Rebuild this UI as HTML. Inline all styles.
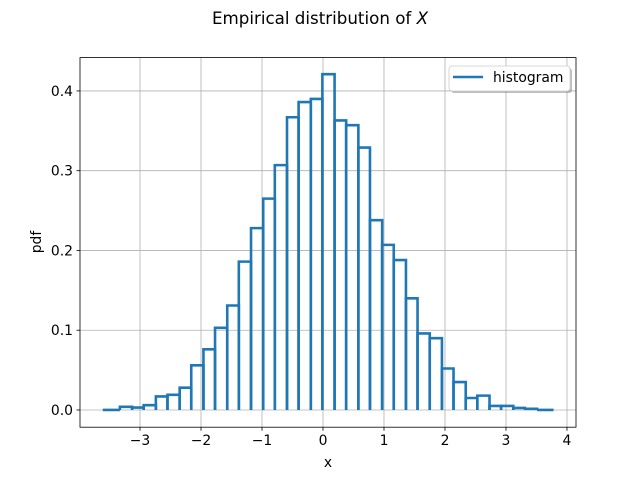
<!DOCTYPE html>
<html><head><meta charset="utf-8"><style>
body{margin:0;background:#fff}
svg{display:block;font-family:"DejaVu Sans","Liberation Sans",sans-serif}
</style></head><body>
<svg id="chart" width="640" height="480" xmlns="http://www.w3.org/2000/svg">
<rect width="640" height="480" fill="#fff"/>
<text x="320" y="24" text-anchor="middle" font-size="16.7">Empirical distribution of <tspan font-style="italic">X</tspan></text>
<g id="grid"></g>
<g id="bars"></g>
<rect x="80" y="57.6" width="496" height="369.6" fill="none" stroke="#000" stroke-width="0.8"/>
<g id="xticks"></g>
<g id="yticks"></g>
<text x="328" y="467" text-anchor="middle" font-size="13.9">x</text>
<text transform="translate(41,242) rotate(-90)" text-anchor="middle" font-size="13.9">pdf</text>
<g>
<rect x="451" y="68" width="121" height="25" rx="3" fill="#808080" opacity="0.5"/>
<rect x="449" y="66" width="121" height="25" rx="3" fill="#fff" stroke="#ccc" stroke-width="0.8"/>
<line x1="453" y1="77" x2="483" y2="77" stroke="#1f77b4" stroke-width="2.6"/>
<text x="493" y="82" font-size="13.9">histogram</text>
</g>
</svg>
<script>
const edges=[-3.61,-3.33,-3.13,-2.94,-2.74,-2.55,-2.35,-2.16,-1.96,-1.77,-1.57,-1.38,-1.18,-0.98,-0.79,-0.59,-0.40,-0.20,-0.01,0.19,0.38,0.58,0.77,0.97,1.16,1.36,1.55,1.75,1.95,2.14,2.34,2.53,2.73,2.92,3.12,3.31,3.51,3.78];
const heights=[0.000,0.004,0.003,0.006,0.017,0.019,0.028,0.056,0.076,0.103,0.131,0.186,0.228,0.265,0.307,0.367,0.386,0.390,0.421,0.363,0.357,0.329,0.238,0.207,0.188,0.140,0.096,0.090,0.052,0.035,0.015,0.018,0.005,0.005,0.0025,0.0015,0.000];
const xTicks=[-3,-2,-1,0,1,2,3,4];
const yTicks=[0.0,0.1,0.2,0.3,0.4];
const yTickLabels=["0.0","0.1","0.2","0.3","0.4"];
const NS="http://www.w3.org/2000/svg";
const X0=-3.984,X1=4.148,Y0=-0.0216,Y1=0.4418;
const L=80,R=576,T=57.6,B=427.2;
function sx(v){return L+(v-X0)/(X1-X0)*(R-L);}
function sy(v){return B-(v-Y0)/(Y1-Y0)*(B-T);}
function mk(tag,attrs,parent){const e=document.createElementNS(NS,tag);for(const k in attrs)e.setAttribute(k,attrs[k]);parent.appendChild(e);return e;}
const grid=document.getElementById('grid'),xt=document.getElementById('xticks'),yt=document.getElementById('yticks'),bars=document.getElementById('bars');
xTicks.forEach(t=>{
  const x=sx(t);
  const g=mk('line',{x1:x,x2:x,y1:T,y2:B,stroke:'#b0b0b0','stroke-width':0.8},grid);
  
  
  const tk=mk('line',{x1:x,x2:x,y1:B,y2:B+3.5,stroke:'#000','stroke-width':0.8},xt);
  
  
  const lb=mk('text',{x:x,y:B+18,'text-anchor':'middle','font-size':13.9},xt);
  lb.textContent=(t<0?'\u2212'+(-t):String(t));
  
  
});
yTicks.forEach((t,i)=>{
  const y=sy(t);
  const g=mk('line',{x1:L,x2:R,y1:y,y2:y,stroke:'#b0b0b0','stroke-width':0.8},grid);
  
  
  const tk=mk('line',{x1:L-3.5,x2:L,y1:y,y2:y,stroke:'#000','stroke-width':0.8},yt);
  
  
  const lb=mk('text',{x:L-7,y:y+5,'text-anchor':'end','font-size':13.9},yt);
  lb.textContent=yTickLabels[i];
  
  
});
heights.forEach((h,i)=>{
  const a=sx(edges[i]),b=sx(edges[i+1]),y0=sy(0),y=sy(h);
  const p=mk('polyline',{points:`${a},${y0} ${a},${y} ${b},${y} ${b},${y0}`,fill:'none',stroke:'#1f77b4','stroke-width':2.6,'stroke-linejoin':'miter'},bars);
  
  
});
</script>
</body></html>
